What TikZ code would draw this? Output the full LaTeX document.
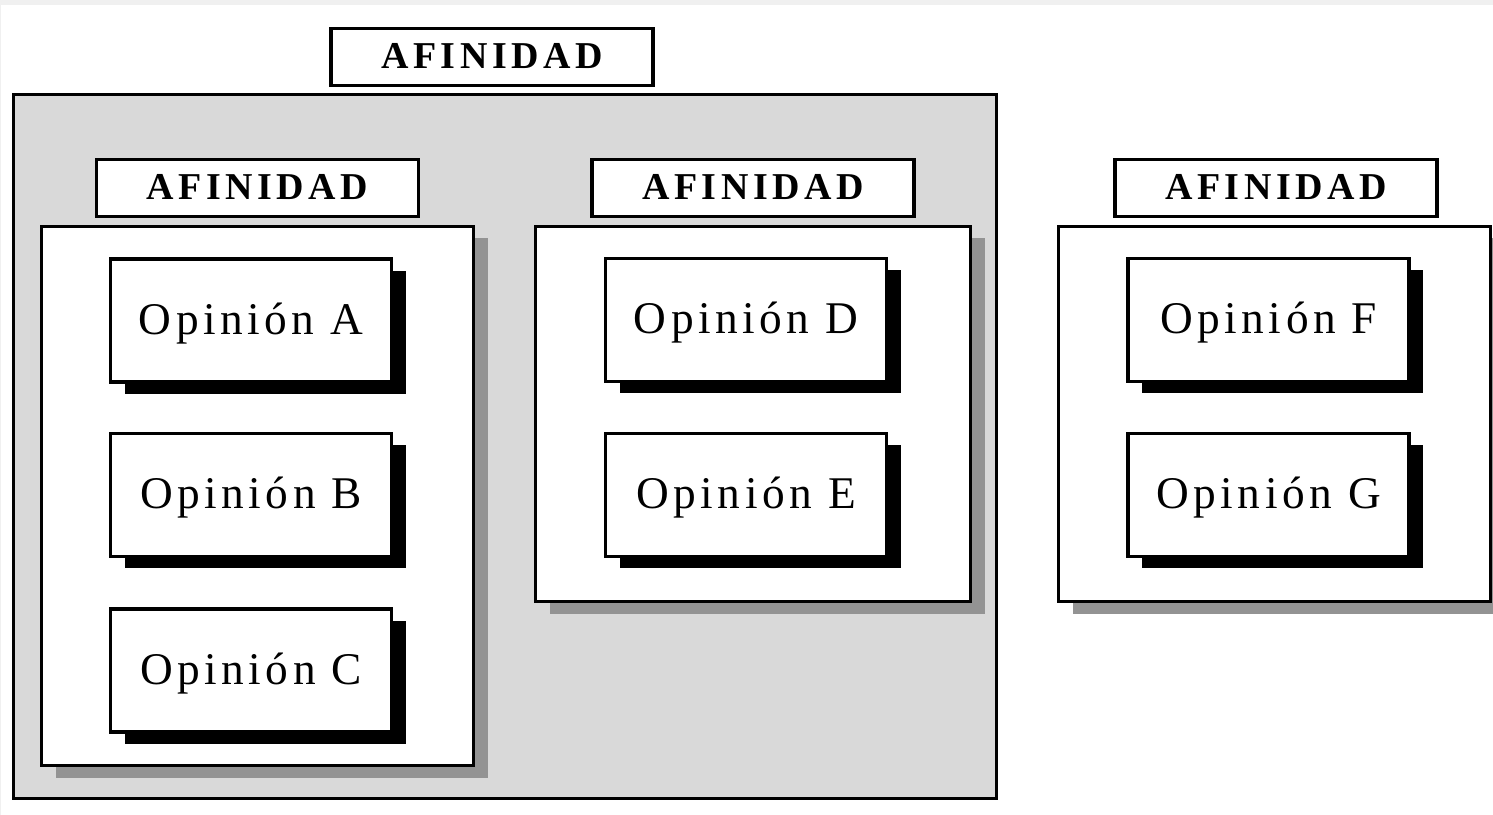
\documentclass[tikz,border=0pt]{standalone}
\usepackage{fontspec}
\setmainfont{Liberation Serif}
\newfontfamily\opfont[LetterSpace=10]{Liberation Serif}
\newfontfamily\tagfont[LetterSpace=12]{Liberation Serif}
\usetikzlibrary{shadows}
\definecolor{panelgray}{HTML}{D9D9D9}
\definecolor{shadowgray}{HTML}{939393}
\definecolor{edgegray}{HTML}{F0F0F0}
\tikzset{
  frame/.style={draw=black, line width=1.05pt, fill=white},
  tagbox/.style={frame, minimum width=3.22cm, minimum height=0.57cm, inner sep=0pt,
    text height=0.68em, text depth=0pt,
    font=\tagfont\bfseries\fontsize{10.8}{13}\selectfont},
  groupbox/.style={frame, inner sep=0pt,
    drop shadow={shadow xshift=0.14cm, shadow yshift=-0.12cm, fill=shadowgray, opacity=1}},
  opbox/.style={frame, minimum width=2.81cm, minimum height=1.23cm, inner sep=0pt,
    text height=0.78em, text depth=0pt,
    font=\opfont\fontsize{12.9}{15}\selectfont,
    drop shadow={shadow xshift=0.14cm, shadow yshift=-0.12cm, fill=black, opacity=1}},
}
\begin{document}
\begin{tikzpicture}[y=-1cm]
  \useasboundingbox (0,0) rectangle (14.93,8.15);
  \fill[white] (0,0) rectangle (14.93,8.15);
  % thin grey page edges
  \fill[edgegray] (0,0) rectangle (14.93,0.05);
  \fill[edgegray] (0,0) rectangle (0.015,8.15);

  % outer grouping panel and its heading
  \node[tagbox] (topTag) at (4.92,0.57) {AFINIDAD};
  \node[draw=black, line width=1.05pt, fill=panelgray, minimum width=9.83cm, minimum height=7.04cm, inner sep=0pt]
    (panel) at (5.05,4.465) {};

  % first group
  \node[tagbox] (tag1) at (2.575,1.88) {AFINIDAD};
  \node[groupbox, minimum width=4.32cm, minimum height=5.39cm] (grp1) at (2.575,4.96) {};
  \node[opbox] (opA) at (2.51,3.205) {Opinión A};
  \node[opbox] (opB) at (2.51,4.95) {Opinión B};
  \node[opbox] (opC) at (2.51,6.705) {Opinión C};

  % second group
  \node[tagbox] (tag2) at (7.53,1.88) {AFINIDAD};
  \node[groupbox, minimum width=4.35cm, minimum height=3.75cm] (grp2) at (7.53,4.14) {};
  \node[opbox] (opD) at (7.46,3.20) {Opinión D};
  \node[opbox] (opE) at (7.46,4.95) {Opinión E};

  % third group, outside the panel
  \node[tagbox] (tag3) at (12.76,1.88) {AFINIDAD};
  \node[groupbox, minimum width=4.32cm, minimum height=3.75cm] (grp3) at (12.745,4.14) {};
  \node[opbox] (opF) at (12.685,3.20) {Opinión F};
  \node[opbox] (opG) at (12.685,4.95) {Opinión G};
\end{tikzpicture}
\end{document}
